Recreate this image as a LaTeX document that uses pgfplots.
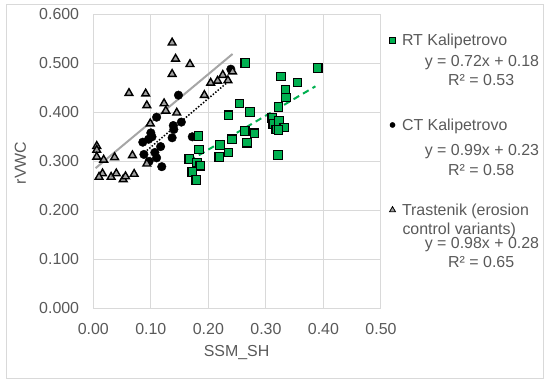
\documentclass[border=0pt]{standalone}
\usepackage{pgfplots}
\pgfplotsset{compat=1.18}
\usepackage{fontspec}
\setmainfont{Liberation Sans}
\definecolor{rtgreen}{HTML}{00B050}
\definecolor{trgray}{HTML}{A0A0A0}
\definecolor{linegray}{HTML}{A6A6A6}
\definecolor{gridgray}{HTML}{D9D9D9}
\definecolor{labelgray}{HTML}{595959}
\begin{document}
\begin{tikzpicture}[font=\fontsize{16}{19}\selectfont]
\path[use as bounding box] (0bp,0bp) rectangle (550bp,385bp);
\draw[gridgray, line width=1bp] (6bp,6bp) rectangle (543bp,380bp);
\begin{axis}[
  at={(93.3bp,76.7bp)}, anchor=south west,
  scale only axis, width=287.7bp, height=294bp,
  xmin=0, xmax=0.5, ymin=0, ymax=0.6,
  xtick={0,0.1,0.2,0.3,0.4,0.5},
  ytick={0,0.1,0.2,0.3,0.4,0.5,0.6},
  grid=major, grid style={gridgray, line width=1bp},
  axis line style={draw=none}, tick style={draw=none},
  /pgf/number format/assume math mode=true,
  tick label style={text=labelgray, font=\fontsize{16}{19}\selectfont},
  xticklabel style={/pgf/number format/fixed, /pgf/number format/fixed zerofill, /pgf/number format/precision=2, anchor=north, inner sep=0pt, yshift=-14.5bp},
  yticklabel style={/pgf/number format/fixed, /pgf/number format/fixed zerofill, /pgf/number format/precision=3, anchor=east, inner sep=0pt, xshift=-14bp},
  xlabel={SSM\_SH}, ylabel={rVWC},
  every axis x label/.style={at={(axis description cs:0.498,-0.164)}, anchor=base, text=labelgray},
  every axis y label/.style={at={(axis description cs:-0.253,0.495)}, anchor=center, rotate=90, text=labelgray},
  legend style={draw=none, fill=none, at={(axis description cs:1.0296,0.9337)}, anchor=north west,
    inner sep=0pt, outer sep=0pt, row sep=0pt, column sep=6.5bp,
    cells={anchor=base west},
    nodes={inner sep=0pt, text height=12bp, text depth=73bp, text=labelgray, font=\fontsize{16}{19}\selectfont}},
  legend image code/.code={\draw[#1] plot coordinates {(4.5bp,5.8bp)};},
]
\addlegendimage{mark=square*, mark size=3bp, draw=black, fill=rtgreen, line width=0.8bp}
\addlegendentry{RT Kalipetrovo}
\addlegendimage{mark=*, mark size=2.6bp, draw=black, fill=black}
\addlegendentry{CT Kalipetrovo}
\addlegendimage{mark=triangle*, mark size=3.4bp, draw=black, fill=trgray, line width=0.8bp}
\addlegendentry{Trastenik (erosion}

% CT Kalipetrovo
\addplot[forget plot, only marks, mark=*, mark size=4.3bp, draw=black, fill=black] coordinates {
(0.239,0.488) (0.148,0.435) (0.110,0.390) (0.153,0.380) (0.139,0.373) (0.140,0.365)
(0.137,0.348) (0.172,0.350) (0.100,0.358) (0.102,0.350) (0.096,0.345) (0.086,0.339)
(0.117,0.330) (0.088,0.314) (0.107,0.318) (0.110,0.307) (0.097,0.300) (0.119,0.289)
};
% RT Kalipetrovo
\addplot[forget plot, only marks, mark=square*, mark size=4.3bp, draw=black, fill=rtgreen, line width=1.2bp] coordinates {
(0.264,0.501) (0.390,0.490) (0.326,0.473) (0.355,0.461) (0.334,0.446) (0.335,0.430)
(0.254,0.418) (0.272,0.401) (0.235,0.394) (0.322,0.411) (0.311,0.388) (0.313,0.376)
(0.323,0.382) (0.318,0.365) (0.332,0.369) (0.322,0.364) (0.263,0.362) (0.280,0.357)
(0.183,0.352) (0.241,0.345) (0.267,0.338) (0.220,0.333) (0.184,0.324) (0.235,0.318)
(0.219,0.309) (0.321,0.313) (0.167,0.305) (0.180,0.297) (0.186,0.291) (0.172,0.278)
(0.179,0.262)
};
% Trastenik
\addplot[forget plot, only marks, mark=triangle*, mark size=4.5bp, draw=black, fill=trgray, line width=1.4bp] coordinates {
(0.137,0.542) (0.143,0.509) (0.168,0.498) (0.137,0.478) (0.062,0.439) (0.091,0.438)
(0.093,0.414) (0.123,0.418) (0.126,0.403) (0.145,0.399) (0.193,0.435) (0.204,0.460)
(0.216,0.464) (0.225,0.476) (0.234,0.465) (0.242,0.483) (0.099,0.377) (0.006,0.331)
(0.006,0.323) (0.006,0.309) (0.018,0.303) (0.037,0.308) (0.068,0.312) (0.093,0.295)
(0.016,0.275) (0.010,0.268) (0.031,0.268) (0.040,0.275) (0.052,0.263) (0.056,0.269)
(0.071,0.274)
};
% trendlines
\addplot[forget plot, linegray, line width=2bp] coordinates {(0.004,0.286) (0.242,0.519)};
\addplot[forget plot, black, line width=1.5bp, dash pattern=on 1.5bp off 1.7bp] coordinates {(0.093,0.322) (0.238,0.466)};
\addplot[forget plot, rtgreen, line width=2bp, dash pattern=on 6.5bp off 4.5bp] coordinates {(0.167,0.301) (0.386,0.453)};
\end{axis}
\begin{scope}[every node/.style={inner sep=0pt, text=labelgray}]
\node[anchor=base east] at (539.3bp,318.5bp) {y = 0.72x + 0.18};
\node[anchor=base] at (481.2bp,299.9bp) {R² = 0.53};
\node[anchor=base east] at (539.3bp,229.2bp) {y = 0.99x + 0.23};
\node[anchor=base] at (481.2bp,209.9bp) {R² = 0.58};
\node[anchor=base west] at (402.3bp,150.9bp) {control variants)};
\node[anchor=base east] at (539.3bp,136.5bp) {y = 0.98x + 0.28};
\node[anchor=base] at (481.2bp,117.5bp) {R² = 0.65};
\end{scope}
\end{tikzpicture}
\end{document}
